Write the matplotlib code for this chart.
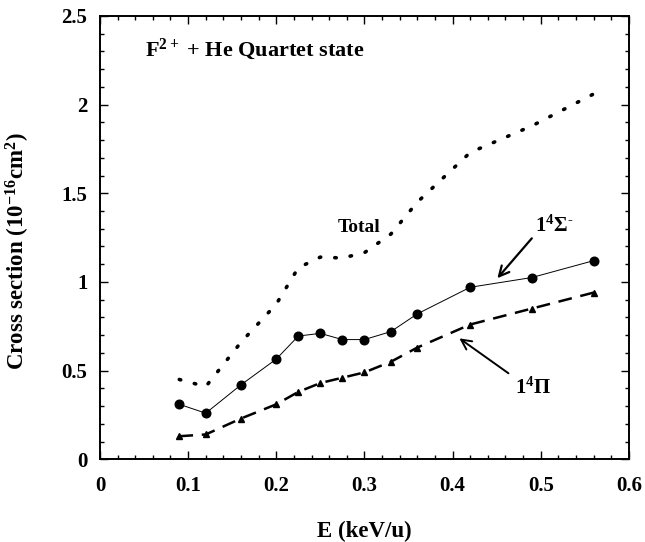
import matplotlib
matplotlib.use("Agg")
import matplotlib.pyplot as plt
from matplotlib.ticker import MultipleLocator

plt.rcParams['font.family'] = ['Liberation Serif', 'DejaVu Serif']
plt.rcParams['font.weight'] = 'bold'
plt.rcParams['mathtext.fontset'] = 'custom'
plt.rcParams['mathtext.rm'] = 'Liberation Serif:bold'
plt.rcParams['mathtext.bf'] = 'Liberation Serif:bold'
plt.rcParams['mathtext.it'] = 'Liberation Serif:bold'
plt.rcParams['mathtext.default'] = 'rm'

# energias (keV/u) y secciones eficaces (1e-16 cm^2)
energy = [0.09, 0.12, 0.16, 0.20, 0.225, 0.25, 0.275, 0.30, 0.33, 0.36, 0.42, 0.49, 0.56]
sigma = [0.31, 0.26, 0.42, 0.565, 0.695, 0.71, 0.675, 0.675, 0.72, 0.82, 0.97, 1.025, 1.12]
pi_state = [0.13, 0.14, 0.23, 0.31, 0.38, 0.43, 0.46, 0.49, 0.55, 0.63, 0.76, 0.85, 0.94]
total = [0.45, 0.41, 0.66, 0.875, 1.08, 1.14, 1.135, 1.165, 1.27, 1.45, 1.73, 1.88, 2.06]

x_ticks = [0, 0.1, 0.2, 0.3, 0.4, 0.5, 0.6]
x_labels = ['0', '0.1', '0.2', '0.3', '0.4', '0.5', '0.6']
y_ticks = [0, 0.5, 1, 1.5, 2, 2.5]
y_labels = ['0', '0.5', '1', '1.5', '2', '2.5']

fig = plt.figure(figsize=(6.45, 5.42), dpi=100)
ax = fig.add_axes([0.155, 0.1526, 0.82, 0.818])

# curvas
ax.plot(energy, total, color='black', linewidth=2.6, linestyle=(0, (0.4, 3.9)),
        dash_capstyle='round')
ax.plot(energy, sigma, color='black', linewidth=0.7, marker='o', markersize=6.2)
ax.plot(energy, pi_state, color='black', linewidth=1.8, linestyle=(0, (5.5, 3.5)),
        marker='^', markersize=4)

ax.set_xlim(0, 0.6)
ax.set_ylim(0, 2.5)
ax.set_xticks(x_ticks)
ax.set_xticklabels(x_labels)
ax.set_yticks(y_ticks)
ax.set_yticklabels(y_labels)
ax.xaxis.set_minor_locator(MultipleLocator(0.02))
ax.yaxis.set_minor_locator(MultipleLocator(0.1))
ax.tick_params(which='both', direction='in', top=True, right=True, width=1.0)
ax.tick_params(which='major', length=6)
ax.tick_params(which='minor', length=3)
ax.tick_params(axis='x', which='major', pad=12, labelsize=15)
ax.tick_params(axis='y', which='major', pad=9, labelsize=15)
for s in ax.spines.values():
    s.set_linewidth(1.4)

ax.set_xlabel('E (keV/u)', fontsize=16.5, fontweight='bold', labelpad=18)
ax.set_ylabel(r'Cross section (10$^{-16}$cm$^{2}$)', fontsize=16.5, fontweight='bold')
ax.yaxis.set_label_coords(-0.128, 0.47)

# textos y flechas
ax.text(0.051, 2.275, r'F$^{2+}$ + He Quartet state', fontsize=16,
        fontweight='bold', va='baseline', ha='left')
ax.text(0.27, 1.284, 'Total', fontsize=14, fontweight='bold', va='baseline', ha='left')
ax.text(0.493, 1.284, r'1$^{4}$Σ$^{\text{-}}$', fontsize=15, fontweight='bold',
        va='baseline', ha='left')
ax.text(0.471, 0.372, r'1$^{4}$Π', fontsize=15, fontweight='bold',
        va='baseline', ha='left')
ax.annotate('', xy=(0.4508, 1.021), xytext=(0.4899, 1.246),
            arrowprops=dict(arrowstyle='->', color='black', lw=1.6,
                            mutation_scale=18, shrinkA=0, shrinkB=0))
ax.annotate('', xy=(0.4077, 0.682), xytext=(0.4634, 0.485),
            arrowprops=dict(arrowstyle='->', color='black', lw=1.4,
                            mutation_scale=18, shrinkA=0, shrinkB=0))

fig.savefig('out.png', dpi=100)
